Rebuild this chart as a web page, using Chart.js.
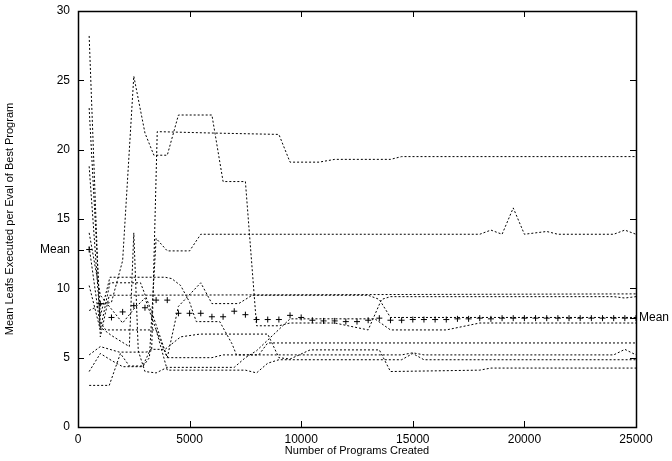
<!DOCTYPE html>
<html>
<head>
<meta charset="utf-8">
<script src="https://cdn.jsdelivr.net/npm/chart.js@4.4.1/dist/chart.umd.min.js"></script>
<style>
  html, body { margin: 0; padding: 0; background: #fff; }
  #wrap { width: 672px; height: 461px; }
</style>
</head>
<body>
<div id="wrap"><canvas id="myChart"></canvas></div>
<script>
// best-program leaf counts for each of the ten runs, as [programs created, mean leafs]
const run1 = [[500, 28.2], [1000, 6.5], [1400, 9.5], [25000, 9.6]];
const run2 = [[500, 23.0], [1000, 8.0], [1430, 10.8], [3900, 10.8], [4200, 10.7], [4600, 10.2], [5000, 9.0], [5300, 7.6], [6350, 7.6], [6900, 6.0], [7100, 5.2], [14500, 5.2], [15000, 5.35], [15500, 5.2], [24000, 5.2], [24500, 5.6], [25000, 5.2]];
const run3 = [[500, 18.8], [1000, 7.5], [1250, 7.0], [3500, 7.0], [4000, 4.1], [7500, 4.1], [8000, 3.9], [8500, 4.6], [9000, 4.85], [14500, 4.85], [15000, 5.3], [15500, 4.85], [25000, 4.85]];
const run4 = [[500, 8.4], [1000, 8.8], [1500, 9.0], [2000, 12.0], [2500, 25.3], [3000, 21.2], [3400, 19.6], [4000, 19.6], [4500, 22.5], [6000, 22.5], [6500, 17.7], [7500, 17.7], [8000, 7.3], [9000, 7.3], [9500, 7.5], [11500, 7.5], [13000, 7.0], [13600, 9.2], [14000, 9.4], [24000, 9.4], [24500, 9.3], [25000, 9.4]];
const run5 = [[500, 5.2], [1000, 5.8], [1850, 5.4], [3050, 5.4], [3300, 5.5], [3550, 21.3], [6000, 21.2], [9000, 21.1], [9500, 19.1], [10800, 19.1], [11500, 19.3], [14000, 19.3], [14500, 19.5], [25000, 19.5]];
const run6 = [[500, 4.0], [1000, 5.3], [1500, 4.8], [2000, 4.35], [2900, 4.35], [3200, 5.0], [3500, 13.6], [4000, 12.7], [5000, 12.7], [5500, 13.9], [18000, 13.9], [18500, 14.2], [19000, 13.9], [19500, 15.8], [20000, 13.9], [21000, 14.1], [21500, 13.9], [24000, 13.9], [24500, 14.2], [25000, 13.9]];
const run7 = [[500, 10.2], [1000, 7.0], [1430, 10.4], [2800, 10.4], [3300, 8.3], [4000, 5.0], [6000, 5.0], [6500, 5.2], [8100, 5.2], [8500, 6.06], [25000, 6.06]];
const run8 = [[500, 3.0], [1400, 3.0], [1900, 5.3], [2300, 4.4], [2900, 4.4], [3250, 5.6], [3900, 5.6], [4600, 6.5], [5460, 6.7], [8500, 6.7], [9000, 5.0], [9500, 4.9], [10400, 5.56], [13500, 5.56], [14000, 4.0], [18000, 4.1], [18500, 4.25], [25000, 4.25]];
const run9 = [[500, 14.0], [1000, 9.5], [1500, 8.5], [2000, 7.5], [2500, 8.5], [3000, 9.3], [3500, 7.0], [4000, 5.0], [4500, 8.7], [5500, 10.4], [6000, 8.9], [7200, 8.9], [7800, 9.5], [13000, 9.5], [13500, 9.2], [14000, 7.9], [25000, 7.9]];
const run10 = [[500, 13.0], [1000, 7.2], [1500, 6.6], [2300, 5.8], [2500, 14.0], [2700, 5.5], [3000, 4.0], [3500, 3.9], [4000, 4.3], [7000, 4.3], [7500, 5.0], [8000, 5.5], [9500, 7.8], [13300, 7.8], [14000, 7.0], [16500, 7.0], [18000, 7.5], [25000, 7.5]];
const runs = [run1, run2, run3, run4, run5, run6, run7, run8, run9, run10];

// mean over the runs, sampled every 500 programs
const meanX = [];
for (let n = 500; n <= 25000; n += 500) meanX.push(n);
const meanY = [12.8, 8.9, 7.9, 8.3, 8.75, 8.6, 9.15, 9.15, 8.2, 8.2,
               8.2, 7.95, 7.95, 8.35, 8.1, 7.75, 7.75, 7.75, 8.05, 7.9,
               7.7, 7.65, 7.65, 7.6, 7.6, 7.7, 7.85, 7.7, 7.7, 7.75,
               7.75, 7.75, 7.75, 7.8, 7.8, 7.85, 7.8, 7.85, 7.85, 7.85,
               7.85, 7.85, 7.85, 7.85, 7.85, 7.85, 7.85, 7.85, 7.85, 7.85];

const xTicks = [0, 5000, 10000, 15000, 20000, 25000];
const yTicks = [0, 5, 10, 15, 20, 25, 30];
const meanStart = meanY[0];
const meanEnd = meanY[meanY.length - 1];

const font = { family: "'Liberation Sans', Arial, sans-serif", size: 12 };

const datasets = runs.map(r => ({
    data: r.map(p => ({ x: p[0], y: p[1] })),
    borderColor: '#000',
    borderWidth: 1,
    borderDash: [2, 2],
    pointRadius: 0,
    tension: 0,
    fill: false
}));
datasets.push({
    data: meanX.map((x, i) => ({ x: x, y: meanY[i] })),
    showLine: false,
    pointStyle: 'cross',
    pointRadius: 3,
    borderColor: '#000',
    borderWidth: 1
});

// gnuplot style frame: box border with ticks pointing inwards
const frame = {
    id: 'frame',
    afterDatasetsDraw(chart) {
        const { ctx, chartArea: a, scales } = chart;
        const len = 6;
        ctx.save();
        ctx.strokeStyle = '#000';
        ctx.lineWidth = 1;
        ctx.beginPath();
        xTicks.forEach(v => {
            const px = Math.round(scales.x.getPixelForValue(v)) + 0.5;
            ctx.moveTo(px, a.bottom); ctx.lineTo(px, a.bottom - len);
            ctx.moveTo(px, a.top); ctx.lineTo(px, a.top + len);
        });
        yTicks.concat([meanStart]).forEach(v => {
            const py = Math.round(scales.y.getPixelForValue(v)) + 0.5;
            ctx.moveTo(a.left, py); ctx.lineTo(a.left + len, py);
        });
        yTicks.concat([meanEnd]).forEach(v => {
            const py = Math.round(scales.y.getPixelForValue(v)) + 0.5;
            ctx.moveTo(a.right, py); ctx.lineTo(a.right - len, py);
        });
        ctx.stroke();
        ctx.lineWidth = 1.5;
        ctx.strokeRect(Math.round(a.left) + 0.5, Math.round(a.top) + 0.5,
                       Math.round(a.right - a.left), Math.round(a.bottom - a.top));
        ctx.restore();
    }
};

// fixed axis box sizes, without the extra room Chart.js keeps for end labels
const fixWidth = w => s => { s.width = w; s.paddingTop = 0; s.paddingBottom = 0; };

const config = {
    type: 'line',
    data: { datasets },
    options: {
        responsive: true,
        maintainAspectRatio: false,
        animation: false,
        layout: { padding: { top: 11, left: 0, right: 0, bottom: 0 } },
        plugins: { legend: { display: false }, tooltip: { enabled: false } },
        scales: {
            x: {
                type: 'linear',
                min: 0,
                max: 25000,
                afterBuildTicks: s => { s.ticks = xTicks.map(v => ({ value: v })); },
                afterFit: s => { s.height = 34; s.paddingLeft = 0; s.paddingRight = 0; },
                grid: { display: false, drawTicks: false },
                border: { display: false },
                ticks: { color: '#000', font, padding: 5, maxRotation: 0, autoSkip: false,
                         callback: v => String(v) },
                title: { display: true, text: 'Number of Programs Created', color: '#000',
                         font: { family: font.family, size: 11 }, padding: { top: 0, bottom: 3 } }
            },
            y: {
                min: 0,
                max: 30,
                afterBuildTicks: s => { s.ticks = yTicks.concat([meanStart]).map(v => ({ value: v })); },
                afterFit: fixWidth(78),
                grid: { display: false, drawTicks: false },
                border: { display: false },
                ticks: { color: '#000', font, padding: 8, autoSkip: false,
                         callback: v => (v === meanStart ? 'Mean' : String(v)) },
                title: { display: true, text: 'Mean Leafs Executed per Eval of Best Program', color: '#000',
                         font: { family: font.family, size: 11 }, padding: { top: 3, bottom: 0 } }
            },
            y2: {
                position: 'right',
                min: 0,
                max: 30,
                afterBuildTicks: s => { s.ticks = [{ value: meanEnd }]; },
                afterFit: fixWidth(36),
                grid: { display: false, drawTicks: false },
                border: { display: false },
                ticks: { color: '#000', font, padding: 3, autoSkip: false, callback: () => 'Mean' }
            }
        }
    },
    plugins: [frame]
};

const myChart = new Chart(document.getElementById('myChart'), config);
</script>
</body>
</html>
